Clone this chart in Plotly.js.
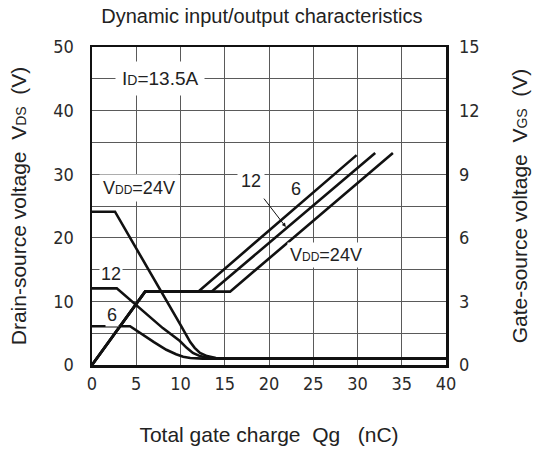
<!DOCTYPE html>
<html>
<head>
<meta charset="utf-8">
<script src="https://cdn.plot.ly/plotly-3.0.1.min.js"></script>
<style>html,body{margin:0;padding:0;background:#fff;}#chart{width:540px;height:455px;}</style>
</head>
<body>
<div id="chart"></div>
<script>
// ---- data ----
// Drain-source voltage VDS (left axis, V) vs gate charge Qg (nC)
var qVds24 = [0, 2.6, 10.0, 10.6, 11.1, 11.6, 12.2, 13.0, 14.0, 15.5, 40];
var vds24  = [24.1, 24.1, 6.3, 4.8, 3.6, 2.7, 1.9, 1.4, 1.1, 1.0, 1.0];
var qVds12 = [0, 2.8, 8.0, 9.0, 9.9, 10.7, 11.4, 12.2, 13.0, 14.5, 40];
var vds12  = [12.05, 12.05, 5.8, 4.7, 3.8, 2.7, 1.9, 1.4, 1.15, 1.0, 1.0];
var qVds6  = [0, 4.3, 7.0, 8.4, 9.5, 10.3, 11.1, 12.5, 40];
var vds6   = [6.1, 6.1, 3.6, 2.4, 1.7, 1.3, 1.1, 1.0, 1.0];
// Gate-source voltage VGS (right axis, V) vs gate charge Qg (nC)
var qVgs6  = [0, 6.0, 12.0, 29.9];
var vgs6   = [0, 3.46, 3.46, 9.9];
var qVgs12 = [0, 6.0, 13.5, 32.0];
var vgs12  = [0, 3.46, 3.46, 10.0];
var qVgs24 = [0, 6.0, 15.6, 34.0];
var vgs24  = [0, 3.46, 3.46, 10.0];
// tick labels
var xTicks = [0, 5, 10, 15, 20, 25, 30, 35, 40];
var yLeftTicks = [0, 10, 20, 30, 40, 50];
var yLeftMinor = [5, 15, 25, 35, 45];
var yRightTicks = [0, 3, 6, 9, 12, 15];

var tickFont = {family: '"DejaVu Sans Condensed", "Liberation Sans Narrow", sans-serif', size: 18, color: '#2a2a2a'};
var txtFont = {family: '"Liberation Sans", Arial, sans-serif', size: 18, color: '#222'};
var titleFont = {family: '"Liberation Sans", Arial, sans-serif', size: 21, color: '#222'};
var lineStyle = {color: '#111', width: 2.6};
var gridCol = '#5a5a5a';
var sp = '\u00a0';
function small(t, s) { return '<span style="font-size:' + (s || 12) + 'px">' + t + '</span>'; }

var traces = [
  {x: qVds24, y: vds24, yaxis: 'y', mode: 'lines', line: lineStyle},
  {x: qVds12, y: vds12, yaxis: 'y', mode: 'lines', line: lineStyle},
  {x: qVds6,  y: vds6,  yaxis: 'y', mode: 'lines', line: lineStyle},
  {x: qVgs6,  y: vgs6,  yaxis: 'y2', mode: 'lines', line: lineStyle},
  {x: qVgs12, y: vgs12, yaxis: 'y2', mode: 'lines', line: lineStyle},
  {x: qVgs24, y: vgs24, yaxis: 'y2', mode: 'lines', line: lineStyle}
];

var layout = {
  width: 540, height: 455,
  margin: {l: 92, r: 94, t: 47, b: 90},
  paper_bgcolor: '#fff', plot_bgcolor: '#fff',
  showlegend: false,
  title: {text: 'Dynamic input/output characteristics', font: {family: '"Liberation Sans", Arial, sans-serif', size: 20, color: '#222'}, x: 0.485, xanchor: 'center', y: 0.965, yanchor: 'middle'},
  xaxis: {
    range: [0, 40], tickmode: 'array', tickvals: xTicks, ticktext: xTicks.map(String),
    showgrid: true, gridcolor: gridCol, gridwidth: 1, zeroline: false,
    showline: true, mirror: true, linecolor: '#111', linewidth: 2.5,
    ticks: '', ticklabelstandoff: 1, tickfont: tickFont,
    title: {text: 'Total gate charge' + sp + sp + 'Qg' + sp + sp + sp + '(nC)', font: titleFont, standoff: 34}
  },
  yaxis: {
    range: [0, 50], tickmode: 'array', tickvals: yLeftTicks, ticktext: yLeftTicks.map(String),
    showgrid: true, gridcolor: gridCol, gridwidth: 1, zeroline: false,
    minor: {tickmode: 'array', tickvals: yLeftMinor, showgrid: true, gridcolor: gridCol, gridwidth: 1, ticks: ''},
    showline: true, mirror: true, linecolor: '#111', linewidth: 2.5,
    ticks: '', ticklabelstandoff: 12, tickfont: tickFont,
    title: {text: 'Drain-source voltage' + sp + sp + 'V' + small('DS', 14) + sp + sp + '(V)', font: titleFont, standoff: 21}
  },
  yaxis2: {
    range: [0, 15], overlaying: 'y', side: 'right', tickmode: 'array', tickvals: yRightTicks, ticktext: yRightTicks.map(String),
    showgrid: false, zeroline: false, showline: false,
    ticks: '', ticklabelstandoff: 12, tickfont: tickFont,
    title: {text: 'Gate-source voltage' + sp + sp + 'V' + small('GS', 14) + sp + sp + '(V)', font: titleFont, standoff: 33}
  },
  annotations: [
    {x: 7.7, y: 45, xref: 'x', yref: 'y', text: 'I' + small('D', 14) + '=13.5A', showarrow: false, font: {family: txtFont.family, size: 19, color: '#222'}, bgcolor: '#fff', borderpad: 6},
    {x: 5.3, y: 27.9, xref: 'x', yref: 'y', text: 'V' + small('DD', 12) + '=24V', showarrow: false, font: txtFont, bgcolor: '#fff', borderpad: 3},
    {x: 2.2, y: 14.3, xref: 'x', yref: 'y', text: '12', showarrow: false, font: txtFont, bgcolor: '#fff', borderpad: 1},
    {x: 2.3, y: 7.8, xref: 'x', yref: 'y', text: '6', showarrow: false, font: txtFont, bgcolor: '#fff', borderpad: 1},
    {x: 18.0, y: 29.0, xref: 'x', yref: 'y', text: '12', showarrow: false, font: txtFont, bgcolor: '#fff', borderpad: 3},
    {x: 23.1, y: 27.6, xref: 'x', yref: 'y', text: '6', showarrow: false, font: txtFont},
    {x: 26.4, y: 17.3, xref: 'x', yref: 'y', text: 'V' + small('DD', 12) + '=24V', showarrow: false, font: txtFont, bgcolor: '#fff', borderpad: 2},
    {x: 21.9, y: 21.7, xref: 'x', yref: 'y', ax: 19.3, ay: 26.4, axref: 'x', ayref: 'y', text: '', showarrow: true, arrowhead: 2, arrowsize: 0.8, arrowwidth: 1, arrowcolor: '#111'}
  ]
};

Plotly.newPlot('chart', traces, layout, {displayModeBar: false, staticPlot: true});
</script>
</body>
</html>
